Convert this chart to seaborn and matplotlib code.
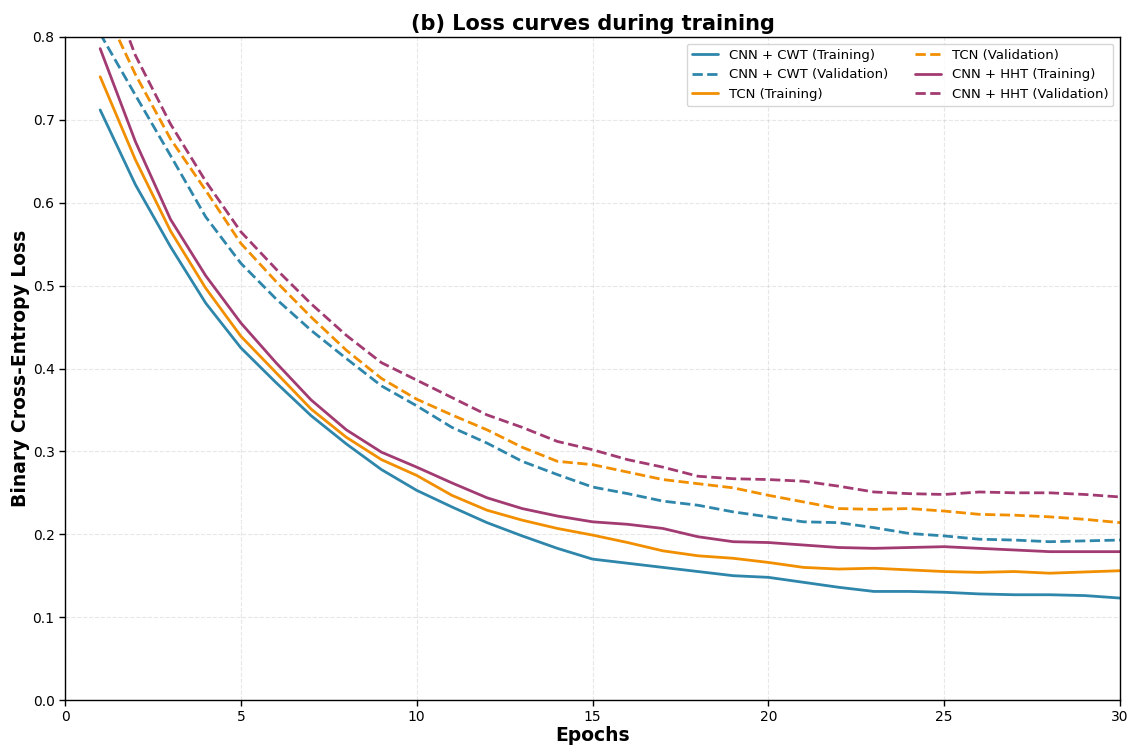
import matplotlib
matplotlib.use("Agg")
import matplotlib.pyplot as plt
import seaborn as sns
import numpy as np
import pandas as pd

epochs = list(range(1, 31))

cwt_train = [0.712, 0.622, 0.547, 0.479, 0.425, 0.383, 0.343, 0.309, 0.278, 0.253,
             0.233, 0.214, 0.198, 0.183, 0.170, 0.165, 0.160, 0.155, 0.150, 0.148,
             0.142, 0.136, 0.131, 0.131, 0.130, 0.128, 0.127, 0.127, 0.126, 0.123]
cwt_val = [0.804, 0.730, 0.657, 0.583, 0.527, 0.484, 0.446, 0.412, 0.379, 0.355,
           0.329, 0.310, 0.288, 0.272, 0.257, 0.249, 0.240, 0.235, 0.227, 0.221,
           0.215, 0.214, 0.208, 0.201, 0.198, 0.194, 0.193, 0.191, 0.192, 0.193]
tcn_train = [0.752, 0.652, 0.566, 0.497, 0.439, 0.395, 0.351, 0.317, 0.290, 0.271,
             0.247, 0.229, 0.217, 0.207, 0.199, 0.190, 0.180, 0.174, 0.171, 0.166,
             0.160, 0.158, 0.159, 0.157, 0.155, 0.154, 0.155, 0.153, 0.1545, 0.156]
tcn_val = [0.845, 0.755, 0.677, 0.615, 0.551, 0.505, 0.462, 0.422, 0.388, 0.363,
           0.344, 0.326, 0.305, 0.288, 0.284, 0.275, 0.266, 0.261, 0.256, 0.247,
           0.239, 0.231, 0.230, 0.231, 0.228, 0.224, 0.223, 0.221, 0.218, 0.214]
hht_train = [0.786, 0.674, 0.580, 0.512, 0.455, 0.407, 0.362, 0.326, 0.299, 0.281,
             0.262, 0.244, 0.231, 0.222, 0.215, 0.212, 0.207, 0.197, 0.191, 0.190,
             0.187, 0.184, 0.183, 0.184, 0.185, 0.183, 0.181, 0.179, 0.179, 0.179]
hht_val = [0.89, 0.778, 0.695, 0.626, 0.565, 0.520, 0.478, 0.440, 0.407, 0.386,
           0.365, 0.344, 0.329, 0.312, 0.302, 0.290, 0.281, 0.270, 0.267, 0.266,
           0.264, 0.258, 0.251, 0.249, 0.248, 0.251, 0.250, 0.250, 0.248, 0.245]

series = [
    ("CNN + CWT (Training)", cwt_train, "#2E86AB", "-"),
    ("CNN + CWT (Validation)", cwt_val, "#2E86AB", "--"),
    ("TCN (Training)", tcn_train, "#F18F01", "-"),
    ("TCN (Validation)", tcn_val, "#F18F01", "--"),
    ("CNN + HHT (Training)", hht_train, "#A23B72", "-"),
    ("CNN + HHT (Validation)", hht_val, "#A23B72", "--"),
]

sns.set_style("white")
plt.rcParams['font.family'] = ['DejaVu Sans']
plt.rcParams['text.color'] = 'black'
plt.rcParams['axes.labelcolor'] = 'black'
plt.rcParams['xtick.color'] = 'black'
plt.rcParams['ytick.color'] = 'black'

fig = plt.figure(figsize=(11.31, 7.45), dpi=100)
ax = fig.add_axes([65/1131, 45/745, (1120-65)/1131, (700-37)/745])

for label, vals, color, ls in series:
    df = pd.DataFrame({"Epoch": epochs, "Loss": vals})
    sns.lineplot(data=df, x="Epoch", y="Loss", ax=ax, color=color,
                 linestyle=ls, linewidth=2, label=label)

ax.set_xlim(0, 30)
ax.set_ylim(0, 0.8)
ax.set_xticks([0, 5, 10, 15, 20, 25, 30])
ax.set_yticks(np.arange(0, 0.81, 0.1))
ax.set_yticklabels([f"{v:.1f}" for v in np.arange(0, 0.81, 0.1)])
ax.tick_params(axis='both', labelsize=10, direction='out', length=4, width=1,
               left=True, bottom=True, colors='black')
ax.grid(True, linestyle='--', alpha=0.3, color='#b0b0b0')
for sp in ax.spines.values():
    sp.set_visible(True)
    sp.set_color('black')
    sp.set_linewidth(1)

ax.set_xlabel("Epochs", fontsize=13.5, fontweight='bold', labelpad=1, color='black')
ax.set_ylabel("Binary Cross-Entropy Loss", fontsize=13.5, fontweight='bold', labelpad=2,
              color='black')
ax.set_title("(b) Loss curves during training", fontsize=15, fontweight='bold', pad=5,
             color='black')

ax.legend(loc='upper right', ncol=2, fontsize=9.5, frameon=True, framealpha=0.8,
          handlelength=2.0)

fig.savefig("out.png", dpi=100)
